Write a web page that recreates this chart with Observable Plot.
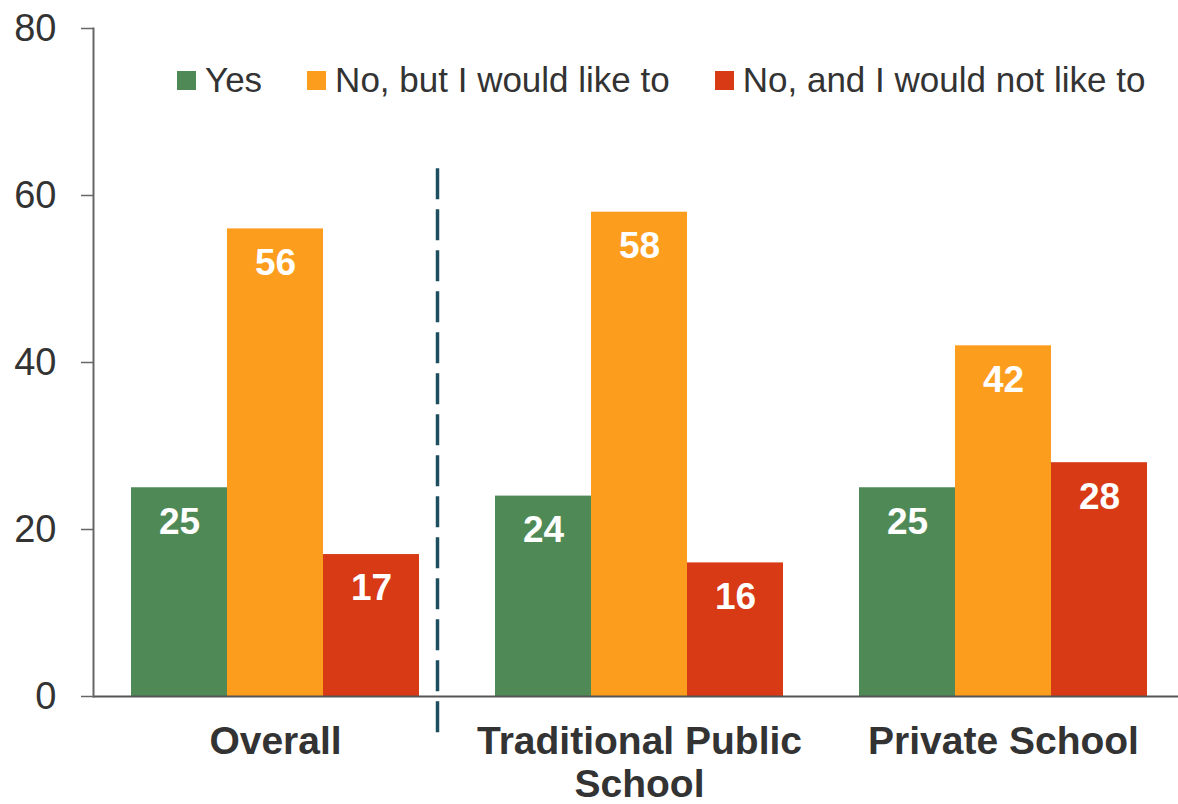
<!DOCTYPE html>
<html>
<head>
<meta charset="utf-8">
<script src="https://cdn.jsdelivr.net/npm/d3@7"></script>
<script src="https://cdn.jsdelivr.net/npm/@observablehq/plot@0.6"></script>
<style>
  html, body { margin: 0; padding: 0; background: #ffffff; }
  #chart { position: relative; width: 1178px; height: 804px; font-family: "Liberation Sans", Arial, sans-serif; }
  #legend { position: absolute; left: 177px; top: 58px; display: flex; align-items: center; height: 44px;
            font-size: 35px; color: #333; font-family: "Liberation Sans", Arial, sans-serif; }
  #legend .item { display: flex; align-items: center; margin-right: 45px; white-space: nowrap; }
  #legend .sw { width: 19px; height: 19px; margin-right: 9px; display: inline-block; }
</style>
</head>
<body>
<div id="chart"></div>
<script>
const groups = ["Overall", "Traditional Public School", "Private School"];
const groupLabels = ["Overall", "Traditional Public\nSchool", "Private School"];
const answers = ["Yes", "No, but I would like to", "No, and I would not like to"];
const colors = ["#4f8a56", "#fc9d1e", "#d73a15"];
const yesValues = [25, 24, 25];
const noButValues = [56, 58, 42];
const noAndValues = [17, 16, 28];
const yTicks = [0, 20, 40, 60, 80];
const separator = [{group: "Overall", answer: "No, and I would not like to", top: 63.2, bottom: -5}];

const series = [yesValues, noButValues, noAndValues];
const data = [];
groups.forEach((g, gi) => answers.forEach((a, ai) => data.push({group: g, answer: a, value: series[ai][gi]})));
const labelData = groups.map((g, i) => ({group: g, label: groupLabels[i]}));

const chart = Plot.plot({
  width: 1178,
  height: 804,
  marginTop: 28,
  marginBottom: 108,
  marginLeft: 92,
  marginRight: 0,
  style: {background: "transparent", fontFamily: "Liberation Sans, Arial, sans-serif", overflow: "hidden"},
  fx: {domain: groups, padding: 0, range: [92, 1185.5], axis: null},
  x: {domain: answers, paddingInner: 0, paddingOuter: 0.39, axis: null},
  y: {domain: [0, 80], axis: null},
  color: {domain: answers, range: colors},
  marks: [
    Plot.barY(data, {fx: "group", x: "answer", y: "value", fill: "answer", inset: 0}),
    Plot.text(data, {fx: "group", x: "answer", y: "value", text: d => String(d.value), dy: 34,
      fill: "white", fontSize: 37, fontWeight: "bold", lineAnchor: "middle"}),
    Plot.ruleY([0], {stroke: "#555", strokeWidth: 2}),
    Plot.axisY({ticks: yTicks, tickSize: 12, tickPadding: 25, fontSize: 38, stroke: "#666", strokeWidth: 1.5,
      color: "#333", tickFormat: d => String(d), facetAnchor: "left"}),
    Plot.frame({anchor: "left", stroke: "#666", strokeWidth: 2, facetAnchor: "left"}),
    Plot.ruleX(separator, {fx: "group", x: "answer", y1: "top", y2: "bottom", dx: 66,
      stroke: "#1e4f60", strokeWidth: 3.5, strokeDasharray: "31,10"}),
    Plot.text(labelData, {fx: "group", text: "label", frameAnchor: "bottom", lineAnchor: "top", dy: 28,
      fontSize: 39, fontWeight: "bold", fill: "#333", lineHeight: 1.08})
  ]
});

const container = document.getElementById("chart");
container.appendChild(chart);

const legend = document.createElement("div");
legend.id = "legend";
answers.forEach((a, i) => {
  const item = document.createElement("div");
  item.className = "item";
  const sw = document.createElement("span");
  sw.className = "sw";
  sw.style.background = colors[i];
  const t = document.createElement("span");
  t.textContent = a;
  item.appendChild(sw);
  item.appendChild(t);
  legend.appendChild(item);
});
container.appendChild(legend);
</script>
</body>
</html>
